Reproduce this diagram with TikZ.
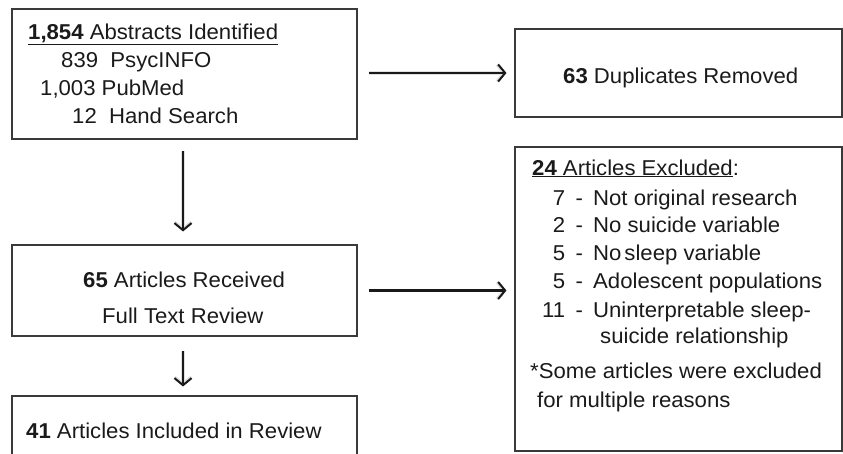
\documentclass[tikz,border=0pt]{standalone}
\usepackage{fontspec}
\setmainfont[FakeStretch=1.03]{Liberation Sans}
\usetikzlibrary{arrows.meta}
\definecolor{boxline}{HTML}{3A3A3A}
\definecolor{txt}{HTML}{1A1A1A}
\newcommand{\exline}[2]{\makebox[25pt][r]{#1}\makebox[28pt]{-}#2}
\begin{document}
\begin{tikzpicture}[x=1pt,y=-1pt,
  box/.style={draw=boxline,line width=1.1pt,rectangle,inner sep=0pt},
  txtn/.style={anchor=base west,inner sep=0pt,text=txt,font=\fontsize{21.5}{25}\selectfont},
  arr/.style={-{Straight Barb[length=7pt,width=17pt,line width=2pt]},line width=2.1pt,black!90},
  shad/.style={-{Straight Barb[length=7pt,width=17pt,line width=3.5pt]},line width=3.5pt,black!12}]
\useasboundingbox (0,0) rectangle (843,453);
\begin{scope}
\clip (0,0) rectangle (843,453);
% boxes
\node[box,minimum width=345pt,minimum height=130pt] (abs) at (184.5,74) {};
\node[box,minimum width=327pt,minimum height=88pt] (dup) at (678.5,73) {};
\node[box,minimum width=327pt,minimum height=304pt] (exc) at (678.5,299) {};
\node[box,minimum width=345pt,minimum height=91pt] (rev) at (184.5,290.5) {};
\node[box,minimum width=345pt,minimum height=80pt] (inc) at (184.5,436) {};
\end{scope}
% box 1 text
\node[txtn] (t1) at (28,39) {\underline{\textbf{1,854} Abstracts Identified}};
\node[txtn] (t2) at (61,67) {839~~PsycINFO};
\node[txtn] (t3) at (40,95) {1,003 PubMed};
\node[txtn] (t4) at (72,123) {12~ Hand Search};
% duplicates
\node[txtn] (d1) at (563,83) {\textbf{63} Duplicates Removed};
% review
\node[txtn] (r1) at (83,287) {\textbf{65} Articles Received};
\node[txtn] (r2) at (102,323) {Full Text Review};
% included
\node[txtn] (i1) at (26,438) {\textbf{41} Articles Included in Review};
% excluded
\node[txtn] (e0) at (532,175) {\underline{\textbf{24} Articles Excluded}:};
\node[txtn] (e1) at (540,205) {\exline{7}{Not original research}};
\node[txtn] (e2) at (540,232) {\exline{2}{No suicide variable}};
\node[txtn] (e3) at (540,260) {\exline{5}{No\hspace{3pt}sleep variable}};
\node[txtn] (e4) at (540,288) {\exline{5}{Adolescent populations}};
\node[txtn] (e5) at (540,317) {\exline{11}{Uninterpretable sleep-}};
\node[txtn] (e6) at (600,343) {suicide relationship};
\node[txtn] (e7) at (530,378) {*Some articles were excluded};
\node[txtn] (e8) at (537,407) {for multiple reasons};
% arrows (faint shadow, then arrow)
\foreach \s in {shad,arr}{
\draw[\s,shorten <=11pt,shorten >=8pt] ([yshift=1pt]abs.east) -- ([yshift=1pt]abs.east -| dup.west);
\draw[\s,shorten <=11pt,shorten >=8pt] (rev.east) -- (rev.east -| exc.west);
\draw[\s,shorten <=11pt,shorten >=13pt] ([xshift=-1.5pt]abs.south) -- ([xshift=-1.5pt]rev.north);
\draw[\s,shorten <=14pt,shorten >=9pt] ([xshift=-1.5pt]rev.south) -- ([xshift=-1.5pt]inc.north);
}
\end{tikzpicture}
\end{document}
